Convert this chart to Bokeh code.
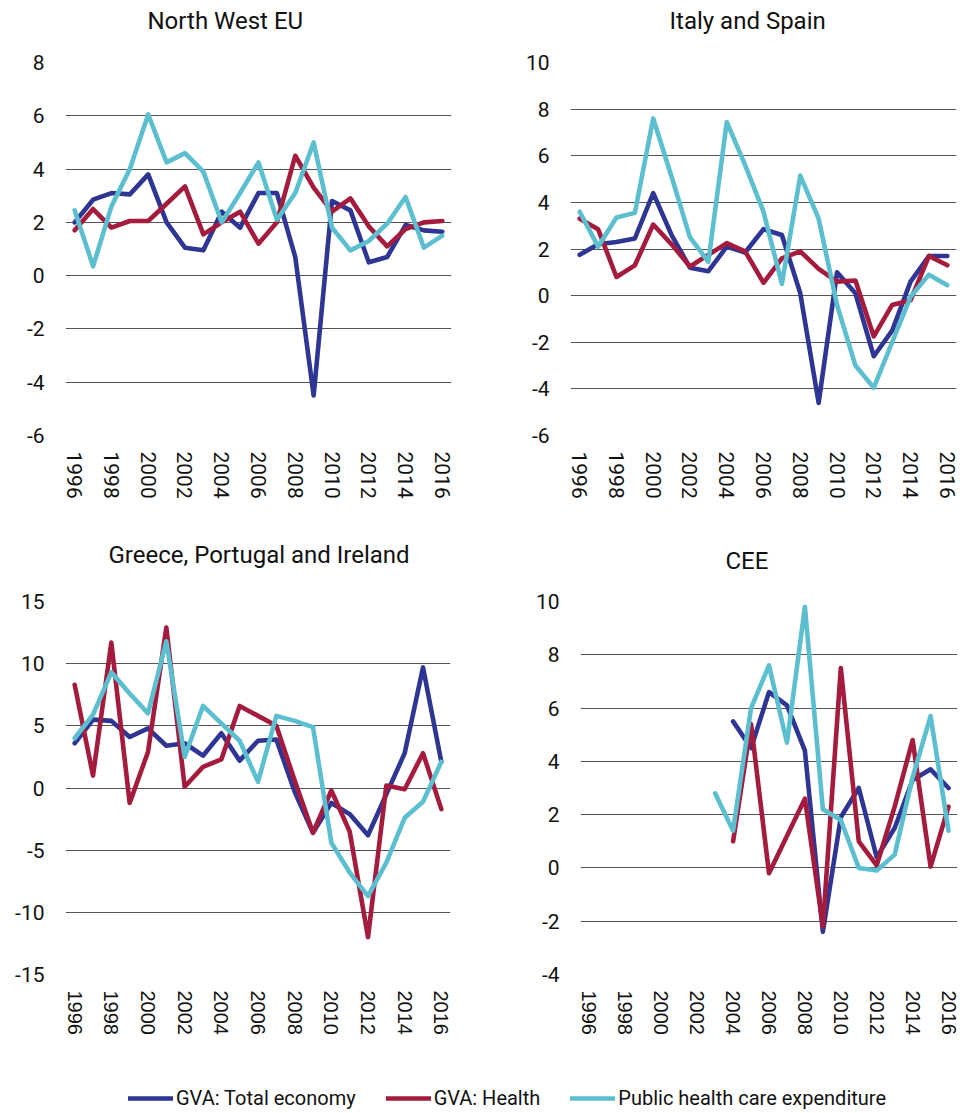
import math
from bokeh.plotting import figure
from bokeh.layouts import column, row
from bokeh.models import FixedTicker, Range1d, Title, Legend, LegendItem, PrintfTickFormatter
from bokeh.embed import file_html
from bokeh.resources import INLINE

NaN = float("nan")
years = list(range(1996, 2017))
year_ticks = list(range(1996, 2017, 2))

series_names = ["GVA: Total economy", "GVA: Health", "Public health care expenditure"]
series_colors = ["#2E3592", "#A51B3D", "#5CBFD0"]

# North West EU
nw_total = [2.0, 2.85, 3.1, 3.05, 3.8, 2.0, 1.05, 0.95, 2.4, 1.8, 3.1, 3.1, 0.7, -4.5, 2.8, 2.45, 0.5, 0.7, 1.9, 1.7, 1.65]
nw_health = [1.7, 2.5, 1.8, 2.05, 2.05, 2.7, 3.35, 1.55, 2.0, 2.4, 1.2, 2.0, 4.5, 3.3, 2.4, 2.9, 1.85, 1.1, 1.75, 2.0, 2.05]
nw_public = [2.45, 0.35, 2.6, 4.0, 6.05, 4.25, 4.6, 3.9, 2.0, 3.1, 4.25, 2.1, 3.1, 5.0, 1.8, 0.95, 1.3, 1.95, 2.95, 1.05, 1.5]

# Italy and Spain
is_total = [1.75, 2.2, 2.3, 2.45, 4.4, 2.6, 1.2, 1.05, 2.1, 1.85, 2.85, 2.6, 0.1, -4.6, 1.0, 0.1, -2.6, -1.5, 0.6, 1.7, 1.7]
is_health = [3.3, 2.85, 0.8, 1.3, 3.05, 2.2, 1.25, 1.75, 2.25, 1.9, 0.55, 1.6, 1.9, 1.15, 0.6, 0.65, -1.75, -0.4, -0.2, 1.7, 1.3]
is_public = [3.6, 2.1, 3.35, 3.55, 7.6, 5.1, 2.5, 1.45, 7.45, 5.6, 3.6, 0.5, 5.15, 3.3, -0.4, -3.0, -3.95, -2.0, -0.05, 0.9, 0.45]

# Greece, Portugal and Ireland
gpi_total = [3.6, 5.5, 5.4, 4.1, 4.8, 3.4, 3.6, 2.6, 4.4, 2.2, 3.8, 3.9, -0.3, -3.6, -1.2, -2.1, -3.8, -0.5, 2.8, 9.7, 2.1]
gpi_health = [8.3, 1.0, 11.7, -1.2, 2.9, 12.9, 0.1, 1.7, 2.3, 6.6, 5.8, 5.0, 0.6, -3.6, -0.2, -3.5, -12.0, 0.2, -0.1, 2.8, -1.7]
gpi_public = [4.0, 5.9, 9.3, 7.6, 6.0, 11.8, 2.5, 6.6, 5.2, 3.8, 0.5, 5.8, 5.4, 4.9, -4.4, -6.8, -8.7, -6.0, -2.4, -1.1, 2.1]

# CEE
cee_total = [NaN] * 8 + [5.5, 4.5, 6.6, 6.1, 4.4, -2.4, 1.9, 3.0, 0.4, 1.5, 3.3, 3.7, 3.0]
cee_health = [NaN] * 8 + [1.0, 5.4, -0.2, 1.2, 2.6, -2.2, 7.5, 1.0, 0.1, 2.3, 4.8, 0.05, 2.3]
cee_public = [NaN] * 7 + [2.8, 1.4, 6.0, 7.6, 4.7, 9.8, 2.2, 1.8, 0.0, -0.1, 0.5, 3.4, 5.7, 1.4]

nw_yticks = [-6, -4, -2, 0, 2, 4, 6, 8]
is_yticks = [-6, -4, -2, 0, 2, 4, 6, 8, 10]
gpi_yticks = [-15, -10, -5, 0, 5, 10, 15]
cee_yticks = [-4, -2, 0, 2, 4, 6, 8, 10]

FONT = "Roboto"


def panel(title, data, yticks, w, h, bl, br, bt, bb, title_offset, spacer, xfont, xsize):
    p = figure(width=w, height=h, title=None, output_backend="svg", toolbar_location=None,
               x_range=Range1d(1995.5, 2016.5), y_range=Range1d(yticks[0], yticks[-1]),
               min_border_left=bl, min_border_right=br, min_border_top=bt, min_border_bottom=bb)
    p.outline_line_color = None
    p.background_fill_color = "white"
    p.border_fill_color = "white"
    for ys, c in zip(data, series_colors):
        p.line(years, ys, line_color=c, line_width=4.6, line_join="round", line_cap="round")
    p.xgrid.visible = False
    p.ygrid.grid_line_color = "#555555"
    p.ygrid.grid_line_width = 1
    p.yaxis.ticker = FixedTicker(ticks=yticks)
    p.ygrid.ticker = FixedTicker(ticks=yticks)
    p.yaxis.formatter = PrintfTickFormatter(format="%d")
    p.xaxis.ticker = FixedTicker(ticks=year_ticks)
    p.xaxis.formatter = PrintfTickFormatter(format="%d")
    for ax in (p.xaxis[0], p.yaxis[0]):
        ax.axis_line_color = None
        ax.major_tick_line_color = None
        ax.minor_tick_line_color = None
        ax.major_tick_out = 0
        ax.major_tick_in = 0
        ax.minor_tick_out = 0
        ax.major_label_text_color = "#111111"
    p.yaxis.major_label_text_font = FONT
    p.yaxis.major_label_text_font_size = "21px"
    p.yaxis.major_label_standoff = 21
    p.xaxis.major_label_text_font = xfont
    p.xaxis.major_label_text_font_size = xsize
    p.xaxis.major_label_orientation = "vertical"
    p.xaxis.major_label_standoff = 16
    p.add_layout(Title(text=" ", text_font_size="1px", standoff=spacer), "above")
    p.add_layout(Title(text=title, align="left", offset=title_offset, text_font=FONT,
                       text_font_size="24px", text_font_style="normal", text_color="#111111",
                       standoff=0), "above")
    return p


f1 = panel("North West EU", [nw_total, nw_health, nw_public], nw_yticks,
           480, 520, 65, 29, 62, 85, 82, 25, FONT, "21px")
f2 = panel("Italy and Spain", [is_total, is_health, is_public], is_yticks,
           483, 520, 90, 7, 62, 85, 99, 25, FONT, "21px")
f3 = panel("Greece, Portugal and Ireland", [gpi_total, gpi_health, gpi_public], gpi_yticks,
           480, 530, 65, 30, 80, 76, 43, 30, "Liberation Sans", "20px")
f4 = panel("CEE", [cee_total, cee_health, cee_public], cee_yticks,
           483, 530, 100, 6, 81, 76, 145, 24, "Liberation Sans", "20px")

leg = figure(width=963, height=60, title=None, output_backend="svg", toolbar_location=None,
             x_range=Range1d(0, 1), y_range=Range1d(0, 1), min_border=0,
             x_axis_location=None, y_axis_location=None)
leg.outline_line_color = None
leg.grid.visible = False
# dummy renderers placed outside the visible range, only used for the legend swatches
rends = [leg.line(x=[5, 6], y=[5, 6], line_color=c, line_width=4.6, line_cap="round")
         for c in series_colors]
legend = Legend(items=[LegendItem(label=n, renderers=[r]) for n, r in zip(series_names, rends)],
                orientation="horizontal", location=(128, 0), padding=0, margin=0,
                spacing=30, glyph_width=45, label_standoff=3,
                label_text_font=FONT, label_text_font_size="20px", label_text_color="#111111",
                border_line_color=None, background_fill_alpha=0)
leg.add_layout(legend, "center")

layout = column(row(f1, f2), row(f3, f4), leg)
open("out.html", "w").write(file_html(layout, INLINE))
